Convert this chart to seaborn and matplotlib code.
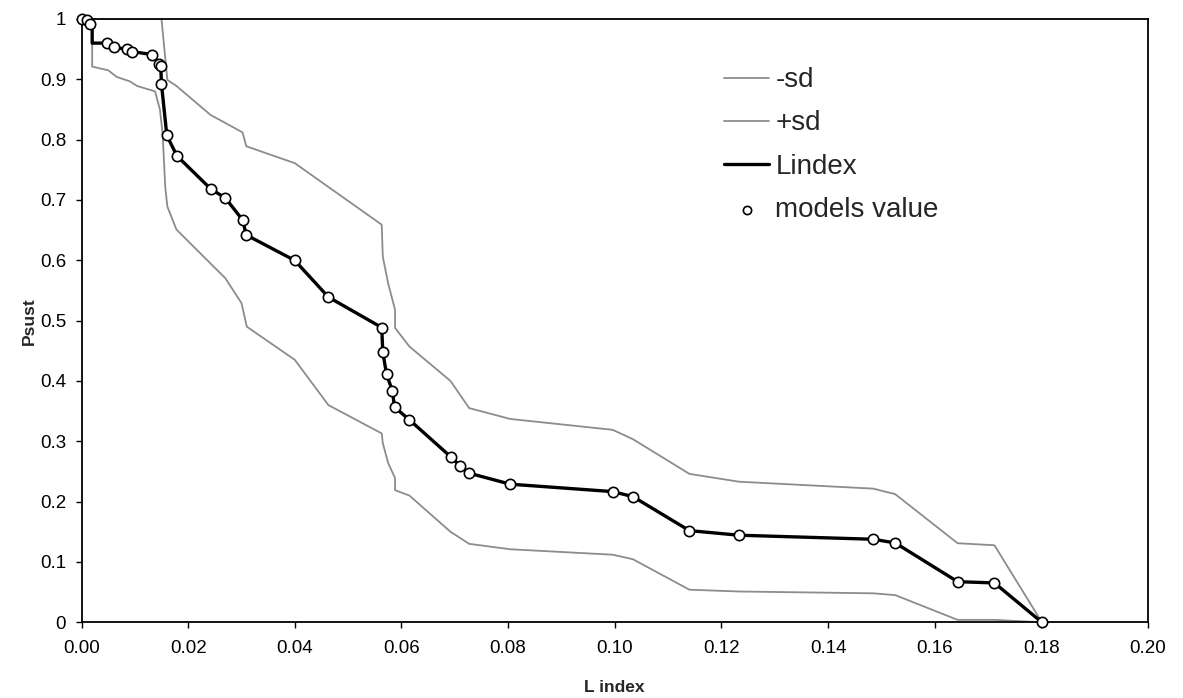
import matplotlib
matplotlib.use("Agg")
import matplotlib.pyplot as plt
import seaborn as sns
import numpy as np

# Lindex curve (line vertices)
lindex_x = [0.0, 0.00098, 0.0016, 0.0020, 0.0020, 0.0047, 0.0060, 0.0085, 0.0094, 0.0133,
            0.0146, 0.01485, 0.0150, 0.0160, 0.0179, 0.0242, 0.0270, 0.0302, 0.0309, 0.0400,
            0.0463, 0.0563, 0.0565, 0.0572, 0.0583, 0.0587, 0.0615, 0.0692, 0.0710, 0.0727,
            0.0804, 0.0996, 0.1034, 0.1140, 0.1233, 0.1485, 0.1526, 0.1643, 0.1712, 0.1801]
lindex_y = [1.0, 0.998, 0.992, 0.99, 0.960, 0.960, 0.953, 0.950, 0.946, 0.941,
            0.925, 0.9226, 0.892, 0.807, 0.773, 0.7186, 0.703, 0.667, 0.642, 0.5997,
            0.539, 0.4886, 0.4478, 0.4113, 0.3836, 0.3566, 0.3355, 0.2746, 0.2592, 0.2471,
            0.2289, 0.2166, 0.2083, 0.1519, 0.1443, 0.1376, 0.1315, 0.0673, 0.0652, 0.0]

# models value (markers)
model_x = [0.0, 0.00098, 0.0016, 0.0047, 0.0060, 0.0085, 0.0094, 0.0133,
           0.0146, 0.01485, 0.0150, 0.0160, 0.0179, 0.0242, 0.0270, 0.0302, 0.0309, 0.0400,
           0.0463, 0.0563, 0.0565, 0.0572, 0.0583, 0.0587, 0.0615, 0.0692, 0.0710, 0.0727,
           0.0804, 0.0996, 0.1034, 0.1140, 0.1233, 0.1485, 0.1526, 0.1643, 0.1712, 0.1801]
model_y = [1.0, 0.998, 0.992, 0.960, 0.953, 0.950, 0.946, 0.941,
           0.925, 0.9226, 0.892, 0.807, 0.773, 0.7186, 0.703, 0.667, 0.642, 0.5997,
           0.539, 0.4886, 0.4478, 0.4113, 0.3836, 0.3566, 0.3355, 0.2746, 0.2592, 0.2471,
           0.2289, 0.2166, 0.2083, 0.1519, 0.1443, 0.1376, 0.1315, 0.0673, 0.0652, 0.0]

# -sd (lower band)
minus_x = [0.0, 0.0020, 0.0020, 0.0050, 0.0066, 0.0091, 0.0104, 0.0138, 0.0147, 0.0152,
           0.0157, 0.0161, 0.0178, 0.0270, 0.0300, 0.0310, 0.0400, 0.0463, 0.0563, 0.0565,
           0.0575, 0.0588, 0.0588, 0.0615, 0.0692, 0.0727, 0.0804, 0.0996, 0.1034, 0.1140,
           0.1233, 0.1485, 0.1526, 0.1643, 0.1712, 0.1801]
minus_y = [1.0, 1.0, 0.921, 0.915, 0.904, 0.8965, 0.889, 0.880, 0.850, 0.811,
           0.722, 0.689, 0.651, 0.570, 0.529, 0.490, 0.435, 0.36, 0.313, 0.297,
           0.264, 0.239, 0.219, 0.21, 0.15, 0.13, 0.121, 0.112, 0.1045, 0.054,
           0.051, 0.048, 0.045, 0.004, 0.004, 0.0]

# +sd (upper band)
plus_x = [0.0, 0.0150, 0.0161, 0.0178, 0.0242, 0.0302, 0.0309, 0.0400, 0.0563, 0.0565,
          0.0575, 0.0588, 0.0588, 0.0615, 0.0692, 0.0727, 0.0804, 0.0996, 0.1034, 0.1140,
          0.1233, 0.1485, 0.1526, 0.1643, 0.1712, 0.1801]
plus_y = [1.0, 1.0, 0.899, 0.889, 0.841, 0.812, 0.789, 0.761, 0.659, 0.606,
          0.562, 0.518, 0.488, 0.457, 0.40, 0.355, 0.337, 0.319, 0.3035, 0.246,
          0.233, 0.2215, 0.2123, 0.131, 0.1277, 0.0]

x_ticks = [0.00, 0.02, 0.04, 0.06, 0.08, 0.10, 0.12, 0.14, 0.16, 0.18, 0.20]
y_ticks = [0, 0.1, 0.2, 0.3, 0.4, 0.5, 0.6, 0.7, 0.8, 0.9, 1]
y_labels = ["0", "0.1", "0.2", "0.3", "0.4", "0.5", "0.6", "0.7", "0.8", "0.9", "1"]

sns.set_style("ticks")
plt.rcParams['font.family'] = ['Liberation Sans', 'DejaVu Sans']

fig = plt.figure(figsize=(11.83, 6.98), dpi=100)
ax = fig.add_axes([0.0689, 0.1085, 0.9015, 0.8643])

sns.lineplot(x=minus_x, y=minus_y, sort=False, estimator=None, color="#8c8c8c",
             linewidth=1.3, label="-sd", ax=ax)
sns.lineplot(x=plus_x, y=plus_y, sort=False, estimator=None, color="#8c8c8c",
             linewidth=1.3, label="+sd", ax=ax)
sns.lineplot(x=lindex_x, y=lindex_y, sort=False, estimator=None, color="black",
             linewidth=2.4, label="Lindex", ax=ax)
sns.scatterplot(x=model_x, y=model_y, marker="o", s=55, color="white",
                edgecolor="black", linewidth=1.2, label="models value",
                clip_on=False, zorder=5, ax=ax)

ax.set_xlim(0, 0.20)
ax.set_ylim(0, 1)
ax.set_xticks(x_ticks)
ax.set_xticklabels([f"{t:.2f}" for t in x_ticks])
ax.set_yticks(y_ticks)
ax.set_yticklabels(y_labels)
ax.tick_params(direction="out", length=4, width=1, labelsize=13.5, colors="black")
ax.tick_params(axis="x", pad=9)
ax.tick_params(axis="y", pad=7)
for s in ax.spines.values():
    s.set_visible(True)
    s.set_color("black")
    s.set_linewidth(1.3)

ax.set_xlabel("L index", fontsize=12.5, fontweight="bold", labelpad=16)
ax.set_ylabel("Psust", fontsize=12.5, fontweight="bold", labelpad=2)

leg = ax.legend(loc="upper left", bbox_to_anchor=(0.6028, 0.92), frameon=False,
                fontsize=20, handlelength=1.62, handletextpad=0.22, labelspacing=0.62,
                borderpad=0, borderaxespad=0, markerscale=0.8)

fig.savefig("out.png", dpi=100)
